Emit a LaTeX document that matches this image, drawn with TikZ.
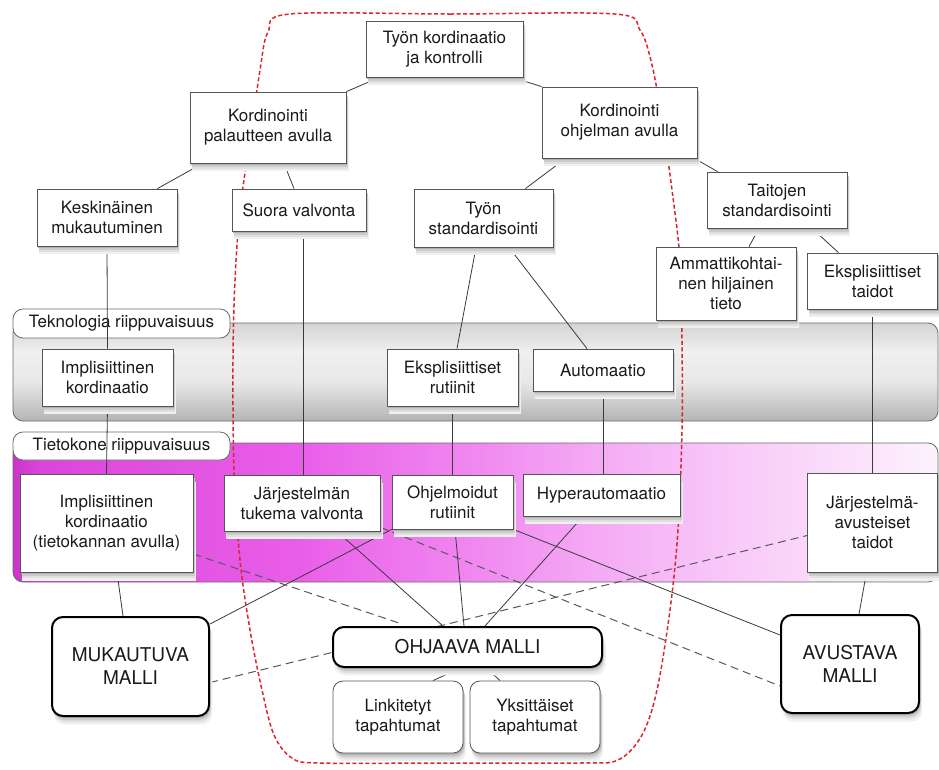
\documentclass[tikz,border=0pt]{standalone}
\usepackage{fontspec}
\setmainfont{TeX Gyre Heros}
\usetikzlibrary{shadows}

\definecolor{boxline}{HTML}{555555}
\definecolor{linec}{HTML}{3A3A3A}
\definecolor{outlinec}{HTML}{6A6A6A}
\definecolor{redc}{HTML}{D8262C}
\definecolor{txtc}{HTML}{1A1A1A}
% magenta band, left to right
\definecolor{mA}{HTML}{C935C9}
\definecolor{mB}{HTML}{DA46DA}
\definecolor{mC}{HTML}{E95EE9}
\definecolor{mD}{HTML}{F086F0}
\definecolor{mE}{HTML}{F4AAF4}
\definecolor{mF}{HTML}{F8C6F8}
\definecolor{mG}{HTML}{FCEBFC}
\definecolor{mH}{HTML}{FDF2FD}
% grey band, bottom to top
\definecolor{gB}{HTML}{B4B4B4}
\definecolor{gM}{HTML}{E8E8E8}
\definecolor{gMM}{HTML}{F0F0F0}
\definecolor{gT}{HTML}{D4D4D4}

\pgfdeclarehorizontalshading{magentaband}{100bp}{color(0bp)=(mA); color(25bp)=(mA); color(26.5bp)=(mB); color(40.5bp)=(mC); color(49.5bp)=(mD); color(56.5bp)=(mE); color(63bp)=(mF); color(73bp)=(mG); color(75bp)=(mH); color(100bp)=(mH)}
\pgfdeclareverticalshading{grayband}{100bp}{color(0bp)=(gB); color(25bp)=(gB); color(45bp)=(gM); color(60bp)=(gMM); color(75bp)=(gT); color(100bp)=(gT)}

\pgfdeclarelayer{edges}
\pgfdeclarelayer{nodes}
\pgfsetlayers{main,edges,nodes}

\tikzset{
  txt/.style={font=\fontsize{17}{20}\selectfont, text=txtc, align=center},
  softshadow/.style={
    general shadow={shadow xshift=2.5pt, shadow yshift=-8pt, shadow scale=1.01, fill=black!6},
    general shadow={shadow xshift=2pt, shadow yshift=-6pt, fill=black!12},
    general shadow={shadow xshift=1.5pt, shadow yshift=-4pt, fill=black!20},
    general shadow={shadow xshift=1pt, shadow yshift=-2pt, fill=black!30}},
  box/.style={txt, draw=boxline, line width=0.8pt, fill=white, inner sep=2pt, softshadow},
  model/.style={box, draw=black, line width=2pt, rounded corners=11pt, font=\fontsize{19}{23}\selectfont},
  event/.style={box, rounded corners=10pt},
  link/.style={draw=linec, line width=0.8pt},
  weak/.style={draw=linec!85, line width=1pt, dash pattern=on 8pt off 5pt},
  group/.style={draw=outlinec, rounded corners=10pt, line width=0.8pt},
  grouplabel/.style={txt, draw=outlinec, fill=white, rounded corners=10pt, line width=0.8pt, inner sep=0pt},
  scopeline/.style={draw=redc, line width=1.5pt, dash pattern=on 4pt off 2.5pt},
}

\begin{document}
\begin{tikzpicture}[x=1pt, y=-1pt]
\useasboundingbox (0,0) rectangle (939,769);

% ---- dependency bands ----
\path[group, shade, shading=grayband] (13,323) rectangle (938,421);
\path[group, shade, shading=magentaband] (13,443) rectangle (938,582);
\node[grouplabel, minimum width=217pt, minimum height=29pt] (lblTek) at (121.5,323.5) {Teknologia riippuvaisuus};
\node[grouplabel, minimum width=217pt, minimum height=28pt] (lblTie) at (121.5,446) {Tietokone riippuvaisuus};

\begin{pgfonlayer}{nodes}
% ---- concepts ----
\node[box, minimum width=157pt, minimum height=56pt] (tk) at (444.5,49) {Työn kordinaatio\\ja kontrolli};
\node[box, minimum width=156pt, minimum height=71pt] (kp) at (268,127.5) {Kordinointi\\palautteen avulla};
\node[box, minimum width=155pt, minimum height=71pt] (ko) at (619.5,122.5) {Kordinointi\\ohjelman avulla};
\node[box, minimum width=140pt, minimum height=57pt] (km) at (107,217.5) {Keskinäinen\\mukautuminen};
\node[box, minimum width=134pt, minimum height=42pt] (sv) at (299,210) {Suora valvonta};
\node[box, minimum width=139pt, minimum height=58pt] (ts) at (483.5,218) {Työn\\standardisointi};
\node[box, minimum width=140pt, minimum height=56pt] (tj) at (777,200) {Taitojen\\standardisointi};
\node[box, minimum width=140pt, minimum height=73pt] (am) at (726,283.5) {Ammattikohtai-\\nen hiljainen\\tieto};
\node[box, minimum width=130pt, minimum height=56pt] (et) at (872.5,281) {Eksplisiittiset\\taidot};

\node[box, minimum width=131pt, minimum height=57pt] (ik) at (107.5,377.5) {Implisiittinen\\kordinaatio};
\node[box, minimum width=131pt, minimum height=57pt] (er) at (452.5,377.5) {Eksplisiittiset\\rutiinit};
\node[box, minimum width=140pt, minimum height=42pt] (au) at (603,370) {Automaatio};

\node[box, minimum width=173pt, minimum height=98pt] (ikt) at (106.5,523) {Implisiittinen\\kordinaatio\\(tietokannan avulla)};
\node[box, minimum width=156pt, minimum height=56pt] (jtv) at (302,503) {Järjestelmän\\tukema valvonta};
\node[box, minimum width=121pt, minimum height=54pt] (or) at (452.5,502) {Ohjelmoidut\\rutiinit};
\node[box, minimum width=157pt, minimum height=42pt] (ha) at (601.5,495) {Hyperautomaatio};
\node[box, minimum width=130pt, minimum height=99pt] (jat) at (872.5,522.5) {Järjestelmä-\\avusteiset\\taidot};

% ---- models ----
\node[model, minimum width=157pt, minimum height=99pt] (mm) at (130.5,666.5) {MUKAUTUVA\\MALLI};
\node[model, minimum width=269pt, minimum height=40pt] (om) at (467.5,647) {OHJAAVA MALLI};
\node[model, minimum width=138pt, minimum height=98pt] (avm) at (850,664) {AVUSTAVA\\MALLI};
\node[event, minimum width=130pt, minimum height=72pt] (lt) at (398,717) {Linkitetyt\\tapahtumat};
\node[event, minimum width=130pt, minimum height=72pt] (yt) at (535,717) {Yksittäiset\\tapahtumat};
\end{pgfonlayer}

% ---- connectors ----
\begin{pgfonlayer}{edges}
  \draw[link] ([xshift=14pt]tk.south west) -- (kp.north east);
  \draw[link] ([xshift=-11pt]tk.south east) -- (ko.north west);
  \draw[link] ([xshift=13pt]kp.south west) -- ([xshift=-20pt]km.north east);
  \draw[link] ([xshift=16pt]kp.south) -- ([xshift=-5pt]sv.north);
  \draw[link] ([xshift=24pt]ko.south west) -- ([xshift=-28pt]ts.north east);
  \draw[link] ([xshift=-3pt]ko.south east) -- ([xshift=11pt]tj.north west);
  \draw[link] ([xshift=-18pt]tj.south) -- ([xshift=23pt]am.north);
  \draw[link] ([xshift=35pt]tj.south) -- ([xshift=-34pt]et.north);

  \draw[link] (km.south) -- (ik.north);
  \draw[link] (ik.south) -- (ikt.north);
  \draw[link] ([xshift=4pt]sv.south) -- ([xshift=1pt]jtv.north);
  \draw[link] ([xshift=-7.5pt]ts.south) -- ([xshift=4.5pt]er.north);
  \draw[link] ([xshift=25.5pt]ts.south) -- ([xshift=-16pt]au.north);
  \draw[link] (er.south) -- (or.north);
  \draw[link] (au.south) -- ([xshift=1.5pt]ha.north);
  \draw[link] (et.south) -- (jat.north);

  \draw[link] ([xshift=10.5pt]ikt.south) -- ([xshift=-7.5pt]mm.north);
  \draw[link] ([xshift=-6pt]jat.south) -- ([xshift=9pt]avm.north);
  \draw[link] ([xshift=35pt]jtv.south) -- ([xshift=-24.5pt]om.north);
  \draw[link] ([xshift=2.5pt]or.south) -- ([xshift=-3.5pt]om.north);
  \draw[link] ([xshift=-18.5pt]ha.south) -- ([xshift=17.5pt]om.north);
  \draw[link] (or.south west) -- ([yshift=-8pt]mm.north east);
  \draw[link] (or.south east) -- ([yshift=-21pt]avm.north west);
  \draw[link] ([xshift=-7pt]om.south) -- ([xshift=35pt]lt.north);
  \draw[link] ([xshift=19pt]om.south) -- ([xshift=-35pt]yt.north);

  \draw[weak] ([yshift=-31pt]ikt.east) -- ([xshift=67pt, yshift=3pt]om.north west);
  \draw[weak] ([yshift=-16pt]mm.east) -- ([yshift=-13pt]jat.west);
  \draw[weak] ([yshift=4pt]jtv.south east) -- ([yshift=-22pt]avm.west);

  % scope of the coordination models
  \draw[scopeline] plot[smooth cycle, tension=0.55] coordinates {
    (290,14) (450,14) (615,14) (640,30) (652,65) (662,120) (672,190) (680,260)
    (682,340) (682,430) (678,530) (670,610) (657,690) (642,735) (618,760)
    (580,763) (450,763) (320,763) (292,758) (274,735) (262,690) (250,630)
    (240,560) (234,470) (233,360) (235,280) (240,210) (250,140) (260,70) (268,32)};
\end{pgfonlayer}
\end{tikzpicture}
\end{document}
